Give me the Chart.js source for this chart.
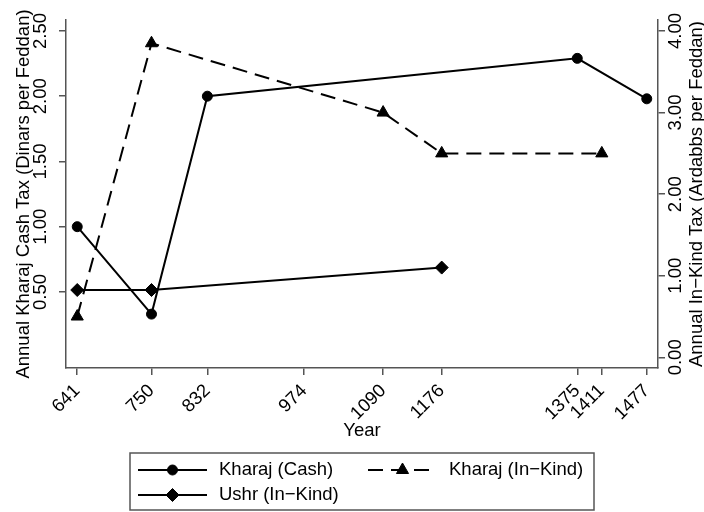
<!DOCTYPE html>
<html>
<head>
<meta charset="utf-8">
<script src="https://cdn.jsdelivr.net/npm/chart.js@4.4.1/dist/chart.umd.min.js"></script>
<style>
  html, body { margin: 0; padding: 0; background: #fff; }
  canvas { display: block; }
</style>
</head>
<body>
<canvas id="c" width="704" height="512"></canvas>
<script>
// Years marked on the horizontal axis
const yearTicks = [641, 750, 832, 974, 1090, 1176, 1375, 1411, 1477];

// Kharaj paid in cash (dinars per feddan, left axis)
const cashYears  = [641, 750, 832, 1375, 1477];
const cashValues = [1.00, 0.33, 2.00, 2.29, 1.98];

// Kharaj paid in kind (ardabbs per feddan, right axis)
const kindYears  = [641, 750, 1090, 1176, 1411];
const kindValues = [0.50, 3.85, 3.00, 2.50, 2.50];

// Ushr paid in kind (ardabbs per feddan, right axis)
const ushrYears  = [641, 750, 1176];
const ushrValues = [0.825, 0.825, 1.10];

const cashTicks = [0.5, 1.0, 1.5, 2.0, 2.5];
const kindTicks = [0, 1, 2, 3, 4];

const seriesLabels = ['Kharaj (Cash)', 'Kharaj (In\u2212Kind)', 'Ushr (In\u2212Kind)'];
const xTitle = 'Year';
const leftTitle = 'Annual Kharaj Cash Tax (Dinars per Feddan)';
const rightTitle = 'Annual In\u2212Kind Tax (Ardabbs per Feddan)';

const FONT_FAMILY = "'Liberation Sans', Arial, Helvetica, sans-serif";
const FONT_SIZE = 18.5;
const AXIS_GREY = '#555';

const pairs = (xs, ys) => xs.map((x, i) => ({ x, y: ys[i] }));

Chart.defaults.font.family = FONT_FAMILY;
Chart.defaults.font.size = FONT_SIZE;
Chart.defaults.color = '#000';

// Right-hand axis title, read bottom to top like the left one
const rightTitlePlugin = {
  id: 'rightTitle',
  afterDraw(chart) {
    const { ctx, chartArea } = chart;
    ctx.save();
    ctx.font = `${FONT_SIZE}px ${FONT_FAMILY}`;
    ctx.fillStyle = '#000';
    ctx.textAlign = 'center';
    ctx.textBaseline = 'middle';
    ctx.translate(chart.width - 7, (chartArea.top + chartArea.bottom) / 2);
    ctx.rotate(-Math.PI / 2);
    ctx.fillText(rightTitle, 0, 0);
    ctx.restore();
  }
};

// Boxed legend with line + marker samples under the plot
const boxLegendPlugin = {
  id: 'boxLegend',
  afterDraw(chart) {
    const { ctx } = chart;
    const box = { left: 130, top: 453, right: 594, bottom: 510 };
    const slots = [
      { x: 138, y: 470 },
      { x: 368, y: 470 },
      { x: 138, y: 495 }
    ];
    const sampleLen = 69;
    ctx.save();
    ctx.strokeStyle = AXIS_GREY;
    ctx.lineWidth = 1.5;
    ctx.strokeRect(box.left, box.top, box.right - box.left, box.bottom - box.top);

    chart.data.datasets.forEach((ds, i) => {
      const s = slots[i];
      ctx.save();
      ctx.strokeStyle = ds.borderColor;
      ctx.lineWidth = ds.borderWidth;
      ctx.setLineDash(ds.borderDash || []);
      ctx.beginPath();
      ctx.moveTo(s.x, s.y);
      ctx.lineTo(s.x + sampleLen, s.y);
      ctx.stroke();
      ctx.setLineDash([]);
      ctx.fillStyle = ds.pointBackgroundColor;
      ctx.strokeStyle = ds.pointBorderColor;
      ctx.lineWidth = ds.pointBorderWidth;
      Chart.helpers.drawPoint(ctx, {
        pointStyle: ds.pointStyle,
        radius: ds.pointRadius,
        rotation: 0,
        borderWidth: ds.pointBorderWidth
      }, s.x + sampleLen / 2, s.y);
      ctx.fillStyle = '#000';
      ctx.font = `${FONT_SIZE}px ${FONT_FAMILY}`;
      ctx.textAlign = 'left';
      ctx.textBaseline = 'middle';
      ctx.fillText(ds.label, s.x + sampleLen + 12, s.y);
      ctx.restore();
    });
    ctx.restore();
  }
};

const axisGrid = { drawOnChartArea: false, drawTicks: true, tickLength: 7, color: AXIS_GREY, lineWidth: 1.5 };
const axisBorder = { color: AXIS_GREY, width: 1.5 };

new Chart(document.getElementById('c'), {
  type: 'line',
  data: {
    datasets: [
      {
        label: seriesLabels[0],
        data: pairs(cashYears, cashValues),
        yAxisID: 'y',
        borderColor: '#000',
        borderWidth: 2,
        pointStyle: 'circle',
        pointRadius: 5,
        pointBackgroundColor: '#000',
        pointBorderColor: '#000',
        pointBorderWidth: 1,
        tension: 0
      },
      {
        label: seriesLabels[1],
        data: pairs(kindYears, kindValues),
        yAxisID: 'y1',
        borderColor: '#000',
        borderWidth: 2,
        borderDash: [15, 8],
        pointStyle: 'triangle',
        pointRadius: 7,
        pointBackgroundColor: '#000',
        pointBorderColor: '#000',
        pointBorderWidth: 1,
        tension: 0
      },
      {
        label: seriesLabels[2],
        data: pairs(ushrYears, ushrValues),
        yAxisID: 'y1',
        borderColor: '#000',
        borderWidth: 2,
        pointStyle: 'rectRot',
        pointRadius: 6.5,
        pointBackgroundColor: '#000',
        pointBorderColor: '#000',
        pointBorderWidth: 1,
        tension: 0
      }
    ]
  },
  options: {
    responsive: false,
    animation: false,
    devicePixelRatio: 1,
    layout: { padding: { top: 20, left: 0, right: 0, bottom: 70 } },
    plugins: {
      legend: { display: false },
      tooltip: { enabled: false }
    },
    scales: {
      x: {
        type: 'linear',
        position: 'bottom',
        min: 624.5,
        max: 1493.5,
        afterBuildTicks: s => { s.ticks = yearTicks.map(v => ({ value: v })); },
        afterFit: s => { s.height = 74; },
        ticks: {
          autoSkip: false,
          minRotation: 45,
          maxRotation: 45,
          padding: 5,
          callback: v => String(v)
        },
        grid: axisGrid,
        border: axisBorder,
        title: { display: true, text: xTitle, padding: { top: 0, bottom: 0 } }
      },
      y: {
        type: 'linear',
        position: 'left',
        min: -0.083,
        max: 2.584,
        afterBuildTicks: s => { s.ticks = cashTicks.map(v => ({ value: v })); },
        afterFit: s => { s.width = 66; },
        ticks: {
          minRotation: 90,
          maxRotation: 90,
          crossAlign: 'center',
          padding: 0,
          callback: v => Number(v).toFixed(2)
        },
        grid: axisGrid,
        border: axisBorder,
        title: { display: true, text: leftTitle, padding: { top: 12.4, bottom: 0 } }
      },
      y1: {
        type: 'linear',
        position: 'right',
        min: -0.131,
        max: 4.135,
        afterBuildTicks: s => { s.ticks = kindTicks.map(v => ({ value: v })); },
        afterFit: s => { s.width = 46; },
        ticks: {
          minRotation: 90,
          maxRotation: 90,
          crossAlign: 'center',
          padding: -7.5,
          callback: v => Number(v).toFixed(2)
        },
        grid: axisGrid,
        border: axisBorder,
        title: { display: false }
      }
    }
  },
  plugins: [rightTitlePlugin, boxLegendPlugin]
});
</script>
</body>
</html>
